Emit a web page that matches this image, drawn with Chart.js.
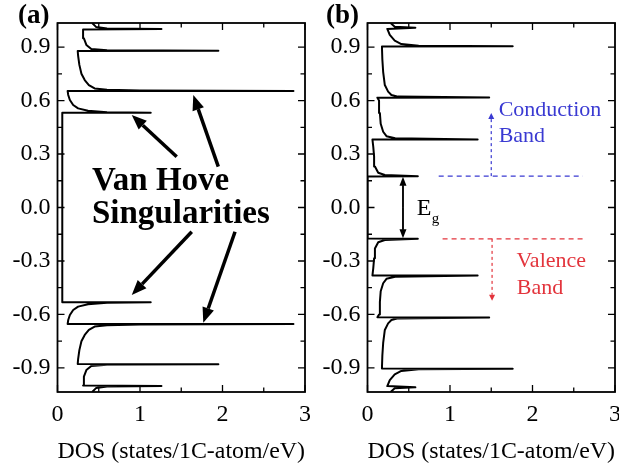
<!DOCTYPE html>
<html>
<head>
<meta charset="utf-8">
<script src="https://cdn.jsdelivr.net/npm/chart.js@4.4.0/dist/chart.umd.min.js"></script>
<style>
  body { margin: 0; background: #fff; }
  #wrap { position: relative; width: 619px; height: 467px; }
  canvas { position: absolute; top: 0; }
  #chartA { left: 0; }
  #chartB { left: 310px; }
</style>
</head>
<body>
<div id="wrap">
  <canvas id="chartA" width="310" height="467"></canvas>
  <canvas id="chartB" width="309" height="467"></canvas>
</div>
<script>
// axis ticks (both panels share them)
const yTicks = [-0.9, -0.6, -0.3, 0.0, 0.3, 0.6, 0.9];
const yMinorTicks = [-0.75, -0.45, -0.15, 0.15, 0.45, 0.75];
const xTicks = [0, 1, 2, 3];
const xMinorTicks = [0.5, 1.5, 2.5];

// (a) metallic tube: energy (eV) and DOS along the curve, bottom to top
const energyA = [
  -1.035, -1.012, -1.004, -1.001,
  -0.999, -0.949, -0.912, -0.889, -0.882, -0.879,
  -0.878, -0.85, -0.80, -0.75, -0.715, -0.687, -0.668, -0.660, -0.656, -0.654,
  -0.653, -0.631, -0.603, -0.575, -0.556, -0.543, -0.535, -0.532,
  -0.532, 0.532,
  0.532, 0.535, 0.543, 0.556, 0.575, 0.603, 0.631, 0.653,
  0.654, 0.656, 0.660, 0.668, 0.687, 0.715, 0.75, 0.80, 0.85, 0.878,
  0.879, 0.882, 0.889, 0.912, 0.949, 0.999,
  1.001, 1.004, 1.012, 1.035
];
const dosA = [
  0.42, 0.47, 0.60, 1.26,
  0.31, 0.32, 0.35, 0.41, 0.60, 1.95,
  0.245, 0.25, 0.265, 0.29, 0.33, 0.38, 0.45, 0.60, 1.00, 2.86,
  0.123, 0.13, 0.15, 0.19, 0.25, 0.37, 0.60, 1.13,
  0.058, 0.058,
  1.13, 0.60, 0.37, 0.25, 0.19, 0.15, 0.13, 0.123,
  2.86, 1.00, 0.60, 0.45, 0.38, 0.33, 0.29, 0.265, 0.25, 0.245,
  1.95, 0.60, 0.41, 0.35, 0.32, 0.31,
  1.26, 0.60, 0.47, 0.42
];

// (b) semiconducting tube
const energyB = [
  -1.035, -1.014, -1.009,
  -1.002, -0.968, -0.936, -0.917, -0.907, -0.904,
  -0.903, -0.83, -0.76, -0.687, -0.65, -0.631, -0.622, -0.617,
  -0.616, -0.60, -0.53, -0.47, -0.425, -0.40, -0.388, -0.382,
  -0.381, -0.34, -0.285, -0.23, -0.195, -0.182, -0.175,
  -0.174, 0.174,
  0.175, 0.182, 0.195, 0.23, 0.285, 0.34, 0.381,
  0.382, 0.388, 0.40, 0.425, 0.47, 0.53, 0.60, 0.616,
  0.617, 0.622, 0.631, 0.65, 0.687, 0.76, 0.83, 0.903,
  0.904, 0.907, 0.917, 0.936, 0.968, 1.002,
  1.009, 1.014, 1.035
];
const dosB = [
  0.28, 0.33, 0.58,
  0.24, 0.27, 0.33, 0.41, 0.62, 1.76,
  0.175, 0.18, 0.19, 0.21, 0.25, 0.29, 0.37, 1.475,
  0.12, 0.14, 0.15, 0.16, 0.19, 0.23, 0.335, 1.335,
  0.06, 0.07, 0.08, 0.09, 0.13, 0.21, 0.61,
  0.0, 0.0,
  0.61, 0.21, 0.13, 0.09, 0.08, 0.07, 0.06,
  1.335, 0.335, 0.23, 0.19, 0.16, 0.15, 0.14, 0.12,
  1.475, 0.37, 0.29, 0.25, 0.21, 0.19, 0.18, 0.175,
  1.76, 0.62, 0.41, 0.33, 0.27, 0.24,
  0.58, 0.33, 0.28
];

const SERIF = '"Liberation Serif", "Times New Roman", serif';
Chart.defaults.font.family = SERIF;
Chart.defaults.color = '#000';

function arrow(ctx, x1, y1, x2, y2, width, headLen, headW, dash) {
  const ang = Math.atan2(y2 - y1, x2 - x1);
  const bx = x2 - headLen * Math.cos(ang), by = y2 - headLen * Math.sin(ang);
  ctx.lineWidth = width;
  ctx.setLineDash(dash || []);
  ctx.beginPath(); ctx.moveTo(x1, y1); ctx.lineTo(bx, by); ctx.stroke();
  ctx.setLineDash([]);
  ctx.beginPath();
  ctx.moveTo(x2, y2);
  ctx.lineTo(bx + headW / 2 * Math.sin(ang), by - headW / 2 * Math.cos(ang));
  ctx.lineTo(bx - headW / 2 * Math.sin(ang), by + headW / 2 * Math.cos(ang));
  ctx.closePath(); ctx.fill();
}

// box frame with inward ticks on all four sides
const frameTicks = {
  id: 'frameTicks',
  afterDraw(chart) {
    const { ctx, chartArea: a, scales: { x, y } } = chart;
    ctx.save();
    ctx.strokeStyle = '#000';
    ctx.lineWidth = 1.3;
    ctx.beginPath();
    const hTick = (v, len) => {
      const p = y.getPixelForValue(v);
      ctx.moveTo(a.left, p); ctx.lineTo(a.left + len, p);
      ctx.moveTo(a.right, p); ctx.lineTo(a.right - len, p);
    };
    const vTick = (v, len) => {
      const p = x.getPixelForValue(v);
      ctx.moveTo(p, a.bottom); ctx.lineTo(p, a.bottom - len);
      ctx.moveTo(p, a.top); ctx.lineTo(p, a.top + len);
    };
    yTicks.forEach(v => hTick(v, 7));
    yMinorTicks.forEach(v => hTick(v, 4.5));
    xTicks.forEach(v => vTick(v, 7));
    xMinorTicks.forEach(v => vTick(v, 4.5));
    ctx.stroke();
    ctx.lineWidth = 1.8;
    ctx.strokeRect(a.left, a.top, a.right - a.left, a.bottom - a.top);
    ctx.restore();
  }
};

// arrows pointing at the van Hove peaks in (a): [x0, E0, x1, E1]
const vhsArrows = [
  [1.445, 0.285, 0.90, 0.519],
  [1.949, 0.229, 1.646, 0.631],
  [1.627, -0.136, 0.90, -0.491],
  [2.152, -0.136, 1.767, -0.646]
];

const annotA = {
  id: 'annotA',
  afterDraw(chart) {
    const { ctx, scales: { x, y } } = chart;
    const px = v => x.getPixelForValue(v), py = v => y.getPixelForValue(v);
    ctx.save();
    ctx.fillStyle = '#000'; ctx.strokeStyle = '#000';
    ctx.textBaseline = 'alphabetic';
    ctx.font = 'bold 27px ' + SERIF;
    ctx.fillText('(a)', 18, 23);
    ctx.font = 'bold 33px ' + SERIF;
    ctx.fillText('Van Hove', px(0.418), py(0.098));
    ctx.fillText('Singularities', px(0.418), py(-0.087));
    vhsArrows.forEach(r => arrow(ctx, px(r[0]), py(r[1]), px(r[2]), py(r[3]), 3.5, 15, 12));
    ctx.restore();
  }
};

const annotB = {
  id: 'annotB',
  afterDraw(chart) {
    const { ctx, scales: { x, y } } = chart;
    const px = v => x.getPixelForValue(v), py = v => y.getPixelForValue(v);
    ctx.save();
    ctx.textBaseline = 'alphabetic';
    ctx.fillStyle = '#000'; ctx.strokeStyle = '#000';
    ctx.font = 'bold 27px ' + SERIF;
    ctx.fillText('(b)', 16, 23);

    // band gap
    const gx = px(0.43);
    ctx.lineWidth = 1.5;
    ctx.beginPath(); ctx.moveTo(gx, py(0.15)); ctx.lineTo(gx, py(-0.15)); ctx.stroke();
    arrow(ctx, gx, py(0.0), gx, py(0.172), 1.5, 9, 7);
    arrow(ctx, gx, py(0.0), gx, py(-0.172), 1.5, 9, 7);
    ctx.font = '24px ' + SERIF;
    ctx.fillText('E', px(0.596), py(-0.042));
    ctx.font = '15px ' + SERIF;
    ctx.fillText('g', px(0.778), py(-0.088));

    // conduction band marker
    const blue = '#3a3ad2';
    ctx.strokeStyle = blue; ctx.fillStyle = blue;
    ctx.lineWidth = 1.2;
    ctx.setLineDash([5, 4]);
    ctx.beginPath(); ctx.moveTo(px(0.863), py(0.176)); ctx.lineTo(px(2.61), py(0.176)); ctx.stroke();
    arrow(ctx, px(1.50), py(0.176), px(1.50), py(0.53), 1.2, 6, 6, [3, 3]);
    ctx.font = '22px ' + SERIF;
    ctx.fillText('Conduction', px(1.59), py(0.516));
    ctx.fillText('Band', px(1.59), py(0.366));

    // valence band marker
    const red = '#e3343c';
    ctx.strokeStyle = red; ctx.fillStyle = red;
    ctx.setLineDash([5, 4]);
    ctx.beginPath(); ctx.moveTo(px(0.91), py(-0.176)); ctx.lineTo(px(2.65), py(-0.176)); ctx.stroke();
    arrow(ctx, px(1.51), py(-0.176), px(1.51), py(-0.523), 1.2, 6, 6, [3, 3]);
    ctx.fillText('Valence', px(1.805), py(-0.331));
    ctx.fillText('Band', px(1.81), py(-0.485));
    ctx.restore();
  }
};

function makeChart(id, energy, dos, rightPad, extra) {
  return new Chart(document.getElementById(id), {
    type: 'scatter',
    data: {
      datasets: [{
        data: dos.map((d, i) => ({ x: d, y: energy[i] })),
        showLine: true,
        borderColor: '#000',
        borderWidth: 2,
        borderJoinStyle: 'round',
        pointRadius: 0,
        tension: 0
      }]
    },
    options: {
      responsive: false,
      animation: false,
      devicePixelRatio: 1,
      layout: { padding: { top: 23, right: rightPad, left: 0, bottom: 0 } },
      plugins: { legend: { display: false }, tooltip: { enabled: false } },
      scales: {
        x: {
          type: 'linear', min: 0, max: 3,
          afterBuildTicks: s => { s.ticks = xTicks.map(v => ({ value: v })); },
          afterFit: s => { s.height = 75; s.paddingLeft = 0; s.paddingRight = 0; },
          grid: { display: false, drawTicks: false },
          border: { display: false },
          ticks: { padding: 8, maxRotation: 0, font: { size: 24 }, callback: v => String(v) },
          title: {
            display: true, text: 'DOS (states/1C-atom/eV)',
            font: { size: 24 }, padding: { top: 0, bottom: 1 }
          }
        },
        y: {
          type: 'linear', min: -1.035, max: 1.035,
          afterBuildTicks: s => { s.ticks = yTicks.map(v => ({ value: v })); },
          afterFit: s => { s.width = 57.5; s.paddingTop = 0; s.paddingBottom = 0; },
          grid: { display: false, drawTicks: false },
          border: { display: false },
          ticks: { padding: 7, font: { size: 24 }, callback: v => v.toFixed(1) }
        }
      }
    },
    plugins: [frameTicks, extra]
  });
}

makeChart('chartA', energyA, dosA, 5, annotA);
makeChart('chartB', energyB, dosB, 4, annotB);
</script>
</body>
</html>
